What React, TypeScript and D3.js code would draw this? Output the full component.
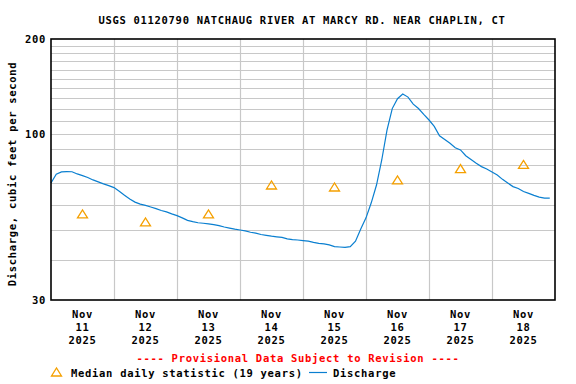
import React from "react";
import * as d3 from "d3";

// discharge, cfs, every 2 hours starting Nov 11 2025 00:00
const dischargeStart = new Date(2025, 10, 11, 0, 0);
const dischargeStepHours = 2;
const discharge = [
  70.2, 74.9, 76.1, 76.3, 76.2, 75.0, 74.1, 73.1, 71.8, 70.8, 69.8, 68.9,
  67.9, 66.1, 64.2, 62.5, 61.1, 60.2, 59.7, 59.0, 58.3, 57.5, 56.9, 56.1,
  55.4, 54.5, 53.5, 53.0, 52.6, 52.4, 52.2, 51.9, 51.5, 51.0, 50.6, 50.2,
  49.9, 49.6, 49.1, 48.8, 48.3, 48.0, 47.7, 47.5, 47.3, 46.8, 46.5, 46.4,
  46.2, 46.0, 45.6, 45.3, 45.1, 44.8, 44.2, 44.1, 44.0, 44.2, 46.0, 50.3,
  54.5, 60.8, 69.2, 83.0, 103.2, 120.6, 129.6, 134.1, 131.1, 124.6, 120.7, 115.6,
  111.0, 106.0, 99.0, 96.3, 93.7, 90.7, 89.3, 85.6, 83.3, 81.0, 79.1, 77.7,
  76.1, 74.4, 72.1, 70.2, 68.4, 67.5, 66.0, 65.1, 64.2, 63.4, 62.9, 62.9,
];

// median daily statistic (19 years), plotted at noon
const medianDays = [11, 12, 13, 14, 15, 16, 17, 18];
const medianValues = [56.1, 52.9, 56.1, 69.2, 68.2, 71.8, 78.0, 80.4];

const yGridValues = [40, 50, 60, 70, 80, 90, 100, 110, 120, 130, 140, 150, 160, 170, 180, 190];
const yTickLabels = [30, 100, 200];
const tickDays = [11, 12, 13, 14, 15, 16, 17, 18];

const title = "USGS 01120790 NATCHAUG RIVER AT MARCY RD. NEAR CHAPLIN, CT";
const yTitle = "Discharge, cubic feet per second";
const provisional = "---- Provisional Data Subject to Revision ----";

const W = 576;
const H = 384;
const margin = { left: 51, right: 21, top: 39, bottom: 84 };
const font = "'DejaVu Sans Mono', 'Liberation Mono', monospace";
const lineColor = "#0a7fd0";
const medianColor = "#f5a000";

const App: React.FC = () => {
  const x = d3
    .scaleTime()
    .domain([new Date(2025, 10, 11), new Date(2025, 10, 19)])
    .range([margin.left, W - margin.right]);
  const y = d3
    .scaleLog()
    .domain([30, 200])
    .range([H - margin.bottom, margin.top]);

  const points = discharge.map((v, i) => ({
    t: d3.timeHour.offset(dischargeStart, i * dischargeStepHours),
    v,
  }));
  const line = d3
    .line<{ t: Date; v: number }>()
    .x((d) => x(d.t))
    .y((d) => y(d.v));

  const dayLines = d3.timeDay.range(new Date(2025, 10, 12), new Date(2025, 10, 19));
  const tri = (cx: number, cy: number) =>
    `M${cx - 5},${cy + 4}L${cx},${cy - 4}L${cx + 5},${cy + 4}Z`;

  const textStyle = {
    fontFamily: font,
    fontWeight: "bold" as const,
    fontSize: "10.5px",
    letterSpacing: "0.7px",
  };

  return (
    <svg
      width={W}
      height={H}
      style={{ position: "absolute", left: 0, top: 0, background: "#fff" }}
    >
      <text x={302} y={24} textAnchor="middle" style={textStyle}>
        {title}
      </text>

      {/* grid */}
      {yGridValues.map((v) => (
        <line
          key={"h" + v}
          x1={margin.left}
          x2={W - margin.right}
          y1={Math.round(y(v)) + 0.5}
          y2={Math.round(y(v)) + 0.5}
          stroke="#c8c8c8"
          strokeWidth={1.2}
        />
      ))}
      {dayLines.map((d) => (
        <line
          key={"v" + d.getDate()}
          x1={Math.round(x(d)) + 0.5}
          x2={Math.round(x(d)) + 0.5}
          y1={margin.top}
          y2={H - margin.bottom}
          stroke="#c8c8c8"
          strokeWidth={1.2}
        />
      ))}

      {/* discharge */}
      <path d={line(points) || ""} fill="none" stroke={lineColor} strokeWidth={1.2} />

      {/* medians */}
      {medianDays.map((day, i) => (
        <path
          key={"m" + day}
          d={tri(x(new Date(2025, 10, day, 12)), y(medianValues[i]))}
          fill="none"
          stroke={medianColor}
          strokeWidth={1.3}
        />
      ))}

      {/* frame */}
      <rect
        x={margin.left}
        y={margin.top}
        width={W - margin.left - margin.right}
        height={H - margin.top - margin.bottom}
        fill="none"
        stroke="#000"
        strokeWidth={1.6}
      />

      {/* y tick labels */}
      {yTickLabels.map((v) => (
        <text
          key={"yl" + v}
          x={46}
          y={y(v) + 4}
          textAnchor="end"
          style={textStyle}
        >
          {v}
        </text>
      ))}
      <text
        transform={`translate(16,174) rotate(-90)`}
        textAnchor="middle"
        style={textStyle}
      >
        {yTitle}
      </text>

      {/* x tick labels */}
      {tickDays.map((day) => {
        const cx = x(new Date(2025, 10, day, 12));
        return (
          <text key={"xl" + day} textAnchor="middle" style={textStyle}>
            <tspan x={cx} y={318}>Nov</tspan>
            <tspan x={cx} y={331}>{day}</tspan>
            <tspan x={cx} y={344}>2025</tspan>
          </text>
        );
      })}

      <text x={298} y={362} textAnchor="middle" style={{ ...textStyle, fill: "#ff0000" }}>
        {provisional}
      </text>

      {/* legend */}
      <path d={tri(56.5, 372)} fill="none" stroke={medianColor} strokeWidth={1.3} />
      <text x={71} y={377} style={textStyle}>
        Median daily statistic (19 years)
      </text>
      <line x1={309} x2={327} y1={372.5} y2={372.5} stroke={lineColor} strokeWidth={1.2} />
      <text x={333} y={377} style={textStyle}>
        Discharge
      </text>
    </svg>
  );
};

export default App;
